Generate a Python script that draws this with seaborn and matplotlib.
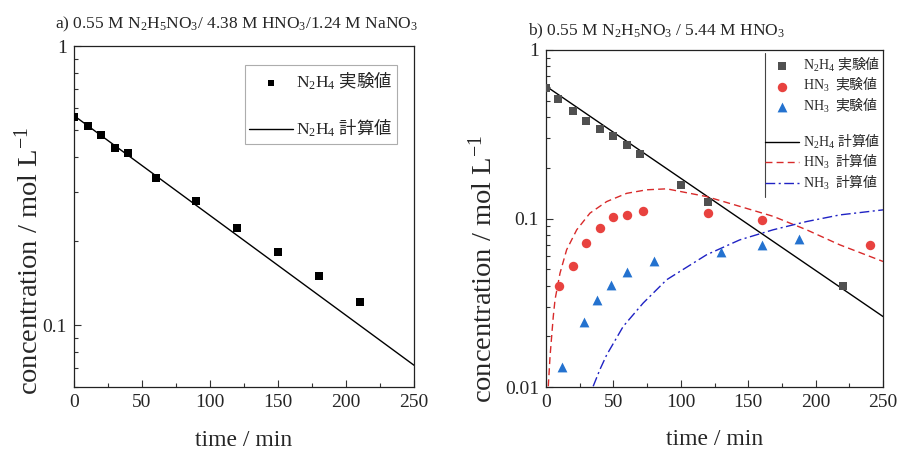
import matplotlib
matplotlib.use("Agg")
import matplotlib.pyplot as plt
import matplotlib.ticker as mticker
from matplotlib.lines import Line2D
import seaborn as sns

# a) 0.55 M N2H5NO3 / 4.38 M HNO3 / 1.24 M NaNO3
a_time = [0, 10, 20, 30, 40, 60, 90, 120, 150, 180, 210]
a_n2h4 = [0.557, 0.515, 0.481, 0.431, 0.414, 0.336, 0.279, 0.223, 0.183, 0.150, 0.121]
a_calc_time = [0, 250]
a_calc_n2h4 = [0.563, 0.0718]

# b) 0.55 M N2H5NO3 / 5.44 M HNO3  (measured)
b_n2h4_time = [0, 9, 20, 30, 40, 50, 60, 70, 100, 120, 220]
b_n2h4 = [0.593, 0.510, 0.436, 0.381, 0.339, 0.309, 0.273, 0.242, 0.158, 0.125, 0.0395]
b_hn3_time = [10, 20, 30, 40, 50, 60, 72, 120, 160, 240]
b_hn3 = [0.040, 0.052, 0.072, 0.088, 0.102, 0.105, 0.111, 0.108, 0.098, 0.070]
b_nh3_time = [12, 28, 38, 48, 60, 80, 130, 160, 188]
b_nh3 = [0.0132, 0.0242, 0.033, 0.0404, 0.0481, 0.0556, 0.0629, 0.0698, 0.0755]

# b) calculated curves (read off the figure)
b_calc_n2h4_time = [0, 250]
b_calc_n2h4 = [0.61, 0.0262]
b_calc_hn3_time = [1.7, 3.0, 4.2, 5.4, 6.7, 10.4, 15.3, 22.8, 32.6, 45, 59.8, 74.6,
                   89.5, 119, 143.8, 168.5, 193.3, 217.9, 250]
b_calc_hn3 = [0.0101, 0.0152, 0.020, 0.0262, 0.033, 0.0474, 0.0652, 0.0857, 0.1076,
              0.126, 0.141, 0.148, 0.150, 0.135, 0.118, 0.103, 0.0857, 0.0698, 0.0556]
b_calc_nh3_time = [35, 40, 45, 57.3, 72.1, 89.5, 119.1, 143.8, 168.5, 193.3, 217.9, 250]
b_calc_nh3 = [0.0101, 0.0127, 0.0155, 0.0229, 0.0315, 0.0433, 0.0609, 0.0747, 0.0857,
              0.0959, 0.105, 0.1125]

sns.set_style("ticks")
plt.rcParams['font.family'] = ['Liberation Serif', 'Noto Sans CJK JP']
plt.rcParams['mathtext.fontset'] = 'custom'
plt.rcParams['mathtext.rm'] = 'Liberation Serif'
plt.rcParams['mathtext.it'] = 'Liberation Serif:italic'
plt.rcParams['mathtext.sf'] = 'Noto Sans CJK JP'
plt.rcParams['axes.unicode_minus'] = False

# japanese words go through mathtext's sf slot (Noto Sans CJK), since mathtext has no fallback
EXP = r"$\mathsf{実験値}$"
CALC = r"$\mathsf{計算値}$"
N2H4 = r"N$_2$H$_4$"
HN3 = r"HN$_3$"
NH3 = r"NH$_3$"

fig = plt.figure(figsize=(9.01, 4.5), dpi=100)
ax_a = fig.add_axes([74/901, 63/450, 340/901, 341/450])
ax_b = fig.add_axes([546/901, 63/450, 337/901, 337/450])


def style_axis(ax, ymin):
    ax.set_yscale('log')
    ax.set_xlim(0, 250)
    ax.set_ylim(ymin, 1)
    ax.xaxis.set_major_locator(mticker.MultipleLocator(50))
    ax.xaxis.set_minor_locator(mticker.MultipleLocator(25))
    ax.yaxis.set_major_locator(mticker.LogLocator(base=10))
    ax.yaxis.set_minor_locator(mticker.LogLocator(base=10, subs=range(2, 10)))
    ax.yaxis.set_major_formatter(mticker.FuncFormatter(lambda v, _: f"{v:g}"))
    ax.yaxis.set_minor_formatter(mticker.NullFormatter())
    ax.tick_params(which='both', direction='in', labelsize=14, width=0.8, color='#333333')
    ax.tick_params(which='major', length=5, pad=5)
    ax.tick_params(which='minor', length=3)
    for sp in ax.spines.values():
        sp.set_visible(True)
        sp.set_linewidth(0.9)
        sp.set_color('#222222')
    ax.set_xlabel("time / min", fontsize=17)
    ax.set_ylabel(r"concentration / mol L$^{\mathregular{-1}}$", fontsize=20.5)


# ---- panel a
sns.scatterplot(x=a_time, y=a_n2h4, ax=ax_a, marker='s', s=34, color='black',
                linewidth=0, label=N2H4 + " " + EXP, zorder=3)
sns.lineplot(x=a_calc_time, y=a_calc_n2h4, ax=ax_a, color='black', lw=1.0,
             label=N2H4 + " " + CALC, sort=False, estimator=None)
style_axis(ax_a, 0.06)
ax_a.xaxis.set_label_coords(0.5, -0.125)
ax_a.yaxis.set_label_coords(-0.09, 0.37)
h, l = ax_a.get_legend_handles_labels()
leg = ax_a.legend(h, l, loc='upper right', bbox_to_anchor=(0.949, 0.944),
                  borderaxespad=0, fontsize=12.5, labelspacing=1.45, handlelength=2.5,
                  handletextpad=0.2, markerscale=0.65, frameon=True, fancybox=False,
                  borderpad=0.25)
leg.get_frame().set_edgecolor('#999999')
leg.get_frame().set_linewidth(0.8)

# ---- panel b
sns.scatterplot(x=b_n2h4_time, y=b_n2h4, ax=ax_b, marker='s', s=30, color='#505050',
                linewidth=0, label=N2H4 + " " + EXP, zorder=3)
sns.scatterplot(x=b_hn3_time, y=b_hn3, ax=ax_b, marker='o', s=46, color='#e8423f',
                linewidth=0, label=HN3 + r"$\ \ $" + EXP, zorder=3)
sns.scatterplot(x=b_nh3_time, y=b_nh3, ax=ax_b, marker='^', s=50, color='#2472cf',
                linewidth=0, label=NH3 + r"$\ \ $" + EXP, zorder=3)
sns.lineplot(x=b_calc_n2h4_time, y=b_calc_n2h4, ax=ax_b, color='black', lw=1.0,
             label=N2H4 + " " + CALC, sort=False, estimator=None)
sns.lineplot(x=b_calc_hn3_time, y=b_calc_hn3, ax=ax_b, color='#d82a2a', lw=1.0,
             linestyle=(0, (5, 3)), label=HN3 + r"$\ \ $" + CALC, sort=False,
             estimator=None)
sns.lineplot(x=b_calc_nh3_time, y=b_calc_nh3, ax=ax_b, color='#1f22c4', lw=1.0,
             linestyle=(0, (7, 2.5, 1.5, 2.5)), label=NH3 + r"$\ \ $" + CALC, sort=False,
             estimator=None)
style_axis(ax_b, 0.01)
ax_b.xaxis.set_label_coords(0.5, -0.125)
ax_b.yaxis.set_label_coords(-0.145, 0.35)
h, l = ax_b.get_legend_handles_labels()
h = h[:3] + [Line2D([], [], linestyle='none')] + h[3:]
l = l[:3] + [' '] + l[3:]
ax_b.legend(h, l, loc='upper right', bbox_to_anchor=(1.0, 0.995), borderaxespad=0,
            fontsize=10, labelspacing=0.12, handlelength=2.4, handletextpad=0.3,
            frameon=False, borderpad=0.2)
# left edge of the clipped legend box
ax_b.axvline(0.65 * 250, ymin=0.564, ymax=0.991, color='#444444', lw=0.8)

fig.text(55/901, 1 - 28/450, r"a) 0.55 M N$_2$H$_5$NO$_3$/ 4.38 M HNO$_3$/1.24 M NaNO$_3$",
         fontsize=12.5, va='baseline')
fig.text(528/901, 1 - 35/450, r"b) 0.55 M N$_2$H$_5$NO$_3$ / 5.44 M HNO$_3$",
         fontsize=12.5, va='baseline')

fig.savefig("out.png", dpi=100)
